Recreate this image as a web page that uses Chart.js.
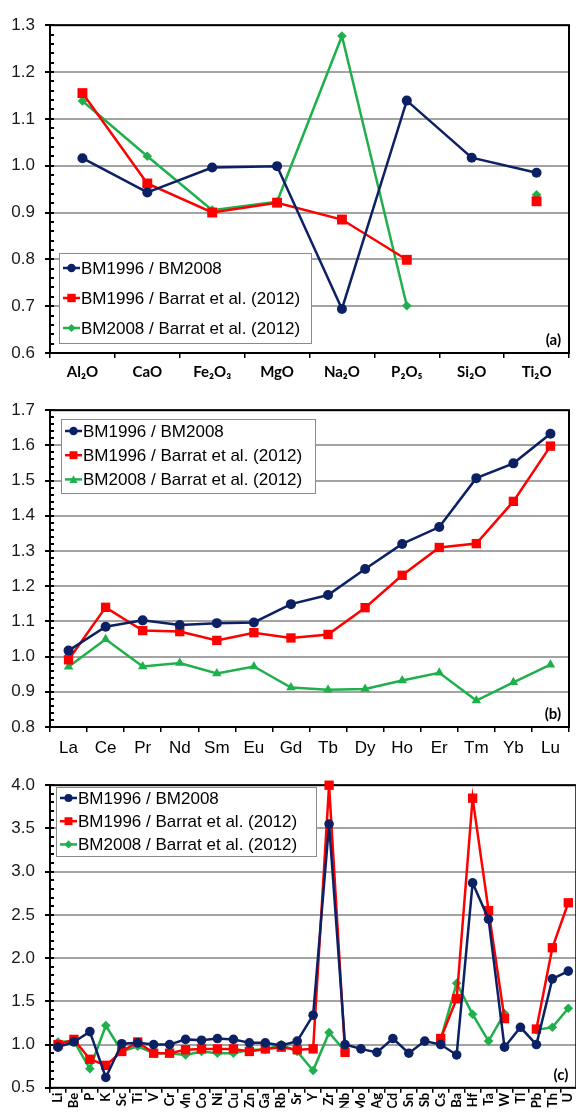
<!DOCTYPE html>
<html>
<head>
<meta charset="utf-8">
<script src="https://cdn.jsdelivr.net/npm/chart.js@4.4.1/dist/chart.umd.min.js"></script>
<style>
  html, body { margin: 0; padding: 0; background: #fff; width: 576px; height: 1113px; overflow: hidden; position: relative; }
  canvas { position: absolute; left: 0; }
  #chartA { top: 0; }
  #chartB { top: 385px; }
  #chartC { top: 760px; }
</style>
</head>
<body>
<canvas id="chartA" width="576" height="385"></canvas>
<canvas id="chartB" width="576" height="375"></canvas>
<canvas id="chartC" width="584" height="353"></canvas>
<script>
// Series names shared by all three panels
const seriesNames = ['BM1996 / BM2008', 'BM1996 / Barrat et al. (2012)', 'BM2008 / Barrat et al. (2012)'];

// (a) major oxides
const oxideLabels = ['Al₂O', 'CaO', 'Fe₂O₃', 'MgO', 'Na₂O', 'P₂O₅', 'Si₂O', 'Ti₂O'];
const oxideBM1996vsBM2008 = [1.016, 0.943, 0.996, 0.999, 0.694, 1.139, 1.017, 0.985];
const oxideBM1996vsBarrat = [1.155, 0.962, 0.900, 0.921, 0.885, 0.799, null, 0.924];
const oxideBM2008vsBarrat = [1.138, 1.020, 0.905, 0.923, 1.277, 0.701, null, 0.938];

// (b) rare earth elements
const reeLabels = ['La', 'Ce', 'Pr', 'Nd', 'Sm', 'Eu', 'Gd', 'Tb', 'Dy', 'Ho', 'Er', 'Tm', 'Yb', 'Lu'];
const reeBM1996vsBM2008 = [1.017, 1.085, 1.103, 1.090, 1.095, 1.097, 1.149, 1.175, 1.249, 1.320, 1.368, 1.507, 1.549, 1.633];
const reeBM1996vsBarrat = [0.991, 1.140, 1.074, 1.071, 1.046, 1.068, 1.053, 1.063, 1.139, 1.231, 1.310, 1.321, 1.441, 1.598];
const reeBM2008vsBarrat = [0.971, 1.049, 0.972, 0.982, 0.952, 0.972, 0.912, 0.906, 0.908, 0.932, 0.954, 0.875, 0.927, 0.977];

// (c) trace elements
const traceLabels = ['Li', 'Be', 'P', 'K', 'Sc', 'Ti', 'V', 'Cr', 'Mn', 'Co', 'Ni', 'Cu', 'Zn', 'Ga', 'Rb', 'Sr', 'Y', 'Zr', 'Nb',
  'Mo', 'Ag', 'Cd', 'Sn', 'Sb', 'Cs', 'Ba', 'Hf', 'Ta', 'W', 'Tl', 'Pb', 'Th', 'U'];
const traceBM1996vsBM2008 = [0.97, 1.03, 1.15, 0.62, 1.01, 1.02, 1.00, 1.00, 1.06, 1.05, 1.07, 1.06, 1.02, 1.02, 0.99, 1.04, 1.34, 3.55, 1.00,
  0.95, 0.91, 1.07, 0.90, 1.04, 1.00, 0.88, 2.87, 2.45, 0.97, 1.20, 1.00, 1.76, 1.85];
const traceBM1996vsBarrat = [1.00, 1.06, 0.83, 0.76, 0.92, 1.03, 0.90, 0.90, 0.94, 0.95, 0.95, 0.95, 0.92, 0.95, 0.97, 0.94, 0.95, 4.00, 0.91,
  null, null, null, null, null, 1.07, 1.53, 3.85, 2.55, 1.30, null, 1.18, 2.12, 2.64];
const traceBM2008vsBarrat = [1.03, 1.04, 0.72, 1.22, 0.92, 0.98, 0.90, 0.90, 0.88, 0.92, 0.90, 0.90, 0.94, 0.94, 1.00, 0.92, 0.70, 1.14, 0.92,
  null, null, null, null, null, 1.06, 1.71, 1.35, 1.04, 1.36, null, 1.17, 1.20, 1.42];

// Value-axis ranges: [min, max, major step, minor step]
const yRangeA = [0.6, 1.3, 0.1, 0.02];
const yRangeB = [0.8, 1.7, 0.1, 0.02];
const yRangeC = [0.5, 4.0, 0.5, 0.1];

const NAVY = '#0c2064';
const RED = '#ff0000';
const GREEN = '#1fb04c';
const ARIAL = "'Liberation Sans', Arial, sans-serif";
const CALIBRI = "Lato, 'DejaVu Sans', sans-serif";

function drawMarker(ctx, style, x, y, r, color) {
  ctx.fillStyle = color;
  ctx.beginPath();
  if (style === 'circle') {
    ctx.arc(x, y, r, 0, Math.PI * 2);
  } else if (style === 'rect') {
    const s = r * Math.SQRT1_2;
    ctx.rect(x - s, y - s, 2 * s, 2 * s);
  } else if (style === 'rectRot') {
    ctx.moveTo(x, y - r); ctx.lineTo(x + r, y); ctx.lineTo(x, y + r); ctx.lineTo(x - r, y);
    ctx.closePath();
  } else if (style === 'triangle') {
    for (let k = 0; k < 3; k++) {
      const ang = k * 2 * Math.PI / 3;
      const px = x + Math.sin(ang) * r, py = y - Math.cos(ang) * r * 1.1 + r * 0.2;
      if (k === 0) ctx.moveTo(px, py); else ctx.lineTo(px, py);
    }
    ctx.closePath();
  }
  ctx.fill();
}

// Plot frame, value-axis tick marks, in-plot legend and panel tag
const framePlugin = {
  id: 'frame',
  beforeDatasetsDraw(chart, args, opts) {
    const { ctx, chartArea: a } = chart;
    const y = chart.scales.y;
    ctx.save();
    ctx.strokeStyle = '#000';
    ctx.lineWidth = 2;
    const n = Math.round((y.max - y.min) / opts.minorStep);
    for (let i = 0; i <= n; i++) {
      const v = y.min + i * opts.minorStep;
      const py = Math.round(y.getPixelForValue(v));
      const q = v / opts.majorStep;
      const major = Math.abs(q - Math.round(q)) < 1e-6;
      ctx.beginPath();
      ctx.moveTo(a.left - (major ? 5 : 0), py);
      ctx.lineTo(a.left + 4, py);
      ctx.stroke();
    }
    ctx.lineWidth = 2;
    ctx.strokeRect(a.left, a.top, a.right - a.left, a.bottom - a.top);
    ctx.restore();
  },
  afterDatasetsDraw(chart, args, opts) {
    const { ctx, chartArea: a } = chart;
    const L = opts.legend;
    ctx.save();
    ctx.fillStyle = '#fff';
    ctx.fillRect(L.x, L.y, L.w, L.h);
    ctx.strokeStyle = '#8a8a8a';
    ctx.lineWidth = 1;
    ctx.strokeRect(L.x + 0.5, L.y + 0.5, L.w, L.h);
    chart.data.datasets.forEach((ds, i) => {
      const cy = L.y + L.first + i * L.gap;
      ctx.strokeStyle = ds.borderColor;
      ctx.lineWidth = 2.5;
      ctx.beginPath();
      ctx.moveTo(L.x + 4, cy);
      ctx.lineTo(L.x + 21, cy);
      ctx.stroke();
      drawMarker(ctx, ds.pointStyle, L.x + 12.5, cy, ds.pointRadius * 0.85, ds.backgroundColor);
      ctx.fillStyle = '#000';
      ctx.font = '17px ' + ARIAL;
      ctx.textAlign = 'left';
      ctx.textBaseline = 'middle';
      ctx.fillText(ds.label, L.x + 22, cy + 1);
    });
    ctx.font = 'bold 15px ' + CALIBRI;
    ctx.textAlign = 'right';
    ctx.textBaseline = 'middle';
    ctx.fillStyle = '#000';
    ctx.fillText(opts.tag, a.right - 8, a.bottom - 13);
    ctx.restore();
  }
};

function series(values, i, style, radius) {
  const colors = [NAVY, RED, GREEN];
  return {
    label: seriesNames[i],
    data: values,
    borderColor: colors[i],
    backgroundColor: colors[i],
    borderWidth: 2.5,
    pointStyle: style,
    pointRadius: radius,
    pointBorderWidth: 0,
    pointHoverRadius: radius,
    tension: 0,
    spanGaps: false,
    clip: false
  };
}

function makeChart(id, labels, datasets, range, cfg) {
  const [ymin, ymax, major, minor] = range;
  return new Chart(document.getElementById(id), {
    type: 'line',
    data: { labels, datasets },
    plugins: [framePlugin],
    options: {
      responsive: false,
      animation: false,
      devicePixelRatio: 1,
      events: [],
      layout: { padding: cfg.padding },
      scales: {
        x: {
          type: 'category',
          offset: true,
          grid: { display: true, drawOnChartArea: false, drawTicks: true, tickLength: 5, color: '#000', lineWidth: 1.5, offset: true },
          border: { display: false },
          ticks: {
            autoSkip: false,
            maxRotation: cfg.rotation,
            minRotation: cfg.rotation,
            padding: cfg.xPad,
            color: '#000',
            font: cfg.xFont
          },
          afterFit(axis) { axis.height = cfg.xHeight; }
        },
        y: {
          min: ymin,
          max: ymax,
          grid: { color: '#a3a3a3', lineWidth: 2, drawTicks: false },
          border: { display: false },
          ticks: {
            stepSize: major,
            padding: 15,
            color: '#1a1a1a',
            font: { family: ARIAL, size: 17 },
            callback: v => Number(v).toFixed(1)
          },
          afterFit(axis) { axis.width = 50; }
        }
      },
      plugins: {
        legend: { display: false },
        tooltip: { enabled: false },
        frame: { minorStep: minor, majorStep: major, legend: cfg.legend, tag: cfg.tag }
      }
    }
  });
}

makeChart('chartA', oxideLabels, [
  series(oxideBM1996vsBM2008, 0, 'circle', 5),
  series(oxideBM1996vsBarrat, 1, 'rect', 7),
  series(oxideBM2008vsBarrat, 2, 'rectRot', 4.8)
], yRangeA, {
  padding: { top: 19, right: 6, bottom: 0, left: 0 },
  xHeight: 32, xPad: 5, rotation: 0,
  xFont: { family: CALIBRI, size: 15, weight: 'bold' },
  legend: { x: 59, y: 253, w: 252, h: 90, first: 15, gap: 30 },
  tag: '(a)'
});

makeChart('chartB', reeLabels, [
  series(reeBM1996vsBM2008, 0, 'circle', 5),
  series(reeBM1996vsBarrat, 1, 'rect', 6.6),
  series(reeBM2008vsBarrat, 2, 'triangle', 5.5)
], yRangeB, {
  padding: { top: 15, right: 7, bottom: 0, left: 0 },
  xHeight: 33, xPad: 6, rotation: 0,
  xFont: { family: ARIAL, size: 17 },
  legend: { x: 61, y: 34, w: 254, h: 74, first: 12, gap: 24.2 },
  tag: '(b)'
});

makeChart('chartC', traceLabels, [
  series(traceBM1996vsBM2008, 0, 'circle', 4.8),
  series(traceBM1996vsBarrat, 1, 'rect', 6.6),
  series(traceBM2008vsBarrat, 2, 'rectRot', 4.8)
], yRangeC, {
  padding: { top: 16, right: 6, bottom: 0, left: 0 },
  xHeight: 20, xPad: 0, rotation: 90,
  xFont: { family: CALIBRI, size: 13, weight: 'bold' },
  legend: { x: 56, y: 27, w: 260, h: 69, first: 11, gap: 23.2 },
  tag: '(c)'
});
</script>
</body>
</html>
